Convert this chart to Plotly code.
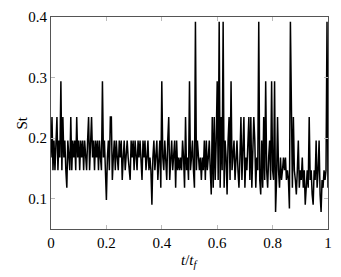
import numpy as np
import plotly.graph_objects as go

# Strouhal number samples (one per ~pixel column)
st_values = [
    0.168, 0.235, 0.147, 0.196, 0.147, 0.196, 0.235, 0.147, 0.196, 0.168,
    0.294, 0.147, 0.235, 0.168, 0.196, 0.147, 0.118, 0.196, 0.168, 0.147,
    0.235, 0.147, 0.196, 0.168, 0.196, 0.147, 0.235, 0.168, 0.196, 0.147,
    0.196, 0.168, 0.196, 0.147, 0.196, 0.168, 0.147, 0.196, 0.235, 0.147,
    0.196, 0.235, 0.168, 0.196, 0.147, 0.196, 0.168, 0.196, 0.147, 0.196,
    0.168, 0.147, 0.294, 0.168, 0.196, 0.147, 0.098, 0.168, 0.196, 0.147,
    0.235, 0.235, 0.131, 0.168, 0.196, 0.147, 0.196, 0.168, 0.147, 0.196,
    0.168, 0.196, 0.131, 0.168, 0.196, 0.147, 0.168, 0.196, 0.168, 0.147,
    0.131, 0.196, 0.168, 0.196, 0.147, 0.196, 0.168, 0.147, 0.196, 0.168,
    0.196, 0.147, 0.131, 0.196, 0.168, 0.196, 0.147, 0.168, 0.196, 0.147,
    0.168, 0.147, 0.090, 0.168, 0.196, 0.147, 0.168, 0.196, 0.131, 0.168,
    0.196, 0.118, 0.294, 0.168, 0.147, 0.196, 0.168, 0.131, 0.196, 0.235,
    0.131, 0.168, 0.196, 0.147, 0.168, 0.196, 0.118, 0.196, 0.147, 0.168,
    0.147, 0.168, 0.147, 0.196, 0.168, 0.118, 0.235, 0.147, 0.168, 0.131,
    0.294, 0.147, 0.168, 0.196, 0.147, 0.118, 0.392, 0.147, 0.196, 0.168,
    0.147, 0.168, 0.131, 0.168, 0.147, 0.196, 0.131, 0.196, 0.147, 0.168,
    0.196, 0.147, 0.107, 0.235, 0.118, 0.235, 0.131, 0.196, 0.294, 0.131,
    0.392, 0.118, 0.235, 0.147, 0.392, 0.118, 0.196, 0.168, 0.107, 0.196,
    0.235, 0.131, 0.294, 0.147, 0.168, 0.196, 0.131, 0.168, 0.196, 0.147,
    0.118, 0.168, 0.235, 0.131, 0.196, 0.235, 0.118, 0.168, 0.147, 0.196,
    0.235, 0.131, 0.235, 0.118, 0.168, 0.235, 0.196, 0.118, 0.168, 0.147,
    0.392, 0.131, 0.107, 0.196, 0.118, 0.235, 0.131, 0.294, 0.147, 0.118,
    0.168, 0.196, 0.131, 0.294, 0.147, 0.131, 0.294, 0.078, 0.131, 0.235,
    0.147, 0.118, 0.168, 0.131, 0.147, 0.168, 0.147, 0.168, 0.131, 0.147,
    0.131, 0.084, 0.392, 0.235, 0.118, 0.235, 0.147, 0.131, 0.107, 0.147,
    0.196, 0.118, 0.147, 0.131, 0.168, 0.118, 0.147, 0.090, 0.131, 0.147,
    0.118, 0.235, 0.131, 0.147, 0.107, 0.090, 0.147, 0.131, 0.196, 0.118,
    0.147, 0.196, 0.107, 0.078, 0.131, 0.118, 0.147, 0.131, 0.147, 0.392,
    0.118,
]
# evenly spaced normalised time samples
t_values = np.linspace(0.0, 1.0, len(st_values))

x_ticks = [0, 0.2, 0.4, 0.6, 0.8, 1]
x_tick_text = ["0", "0.2", "0.4", "0.6", "0.8", "1"]
y_ticks = [0.1, 0.2, 0.3, 0.4]
y_tick_text = ["0.1", "0.2", "0.3", "0.4"]
x_title = "<i>t</i>/<i>t<sub>f</sub></i>"
y_title = "St"

font = dict(family="Liberation Serif", size=15, color="black")

fig = go.Figure(
    go.Scatter(x=t_values, y=st_values, mode="lines",
               line=dict(color="black", width=1.5), hoverinfo="skip")
)

axis_common = dict(
    showgrid=False, zeroline=False, showline=True, mirror="ticks",
    linecolor="#555555", linewidth=1, ticks="inside", ticklen=4,
    tickcolor="#bbbbbb", tickfont=font,
)

fig.update_layout(
    width=341, height=277,
    margin=dict(l=51, r=9, t=10, b=48),
    paper_bgcolor="white", plot_bgcolor="white",
    showlegend=False, font=font,
    xaxis=dict(range=[0, 1], tickvals=x_ticks, ticktext=x_tick_text, **axis_common),
    yaxis=dict(range=[0.05, 0.4], tickvals=y_ticks, ticktext=y_tick_text, **axis_common),
    annotations=[
        dict(text=x_title, xref="paper", yref="paper", x=0.5, y=-0.15,
             xanchor="center", yanchor="middle", showarrow=False, font=font),
        dict(text=y_title, xref="paper", yref="paper", x=-0.103, y=0.5,
             xanchor="center", yanchor="middle", textangle=-90,
             showarrow=False, font=font),
    ],
)

fig.write_html("out.html")
